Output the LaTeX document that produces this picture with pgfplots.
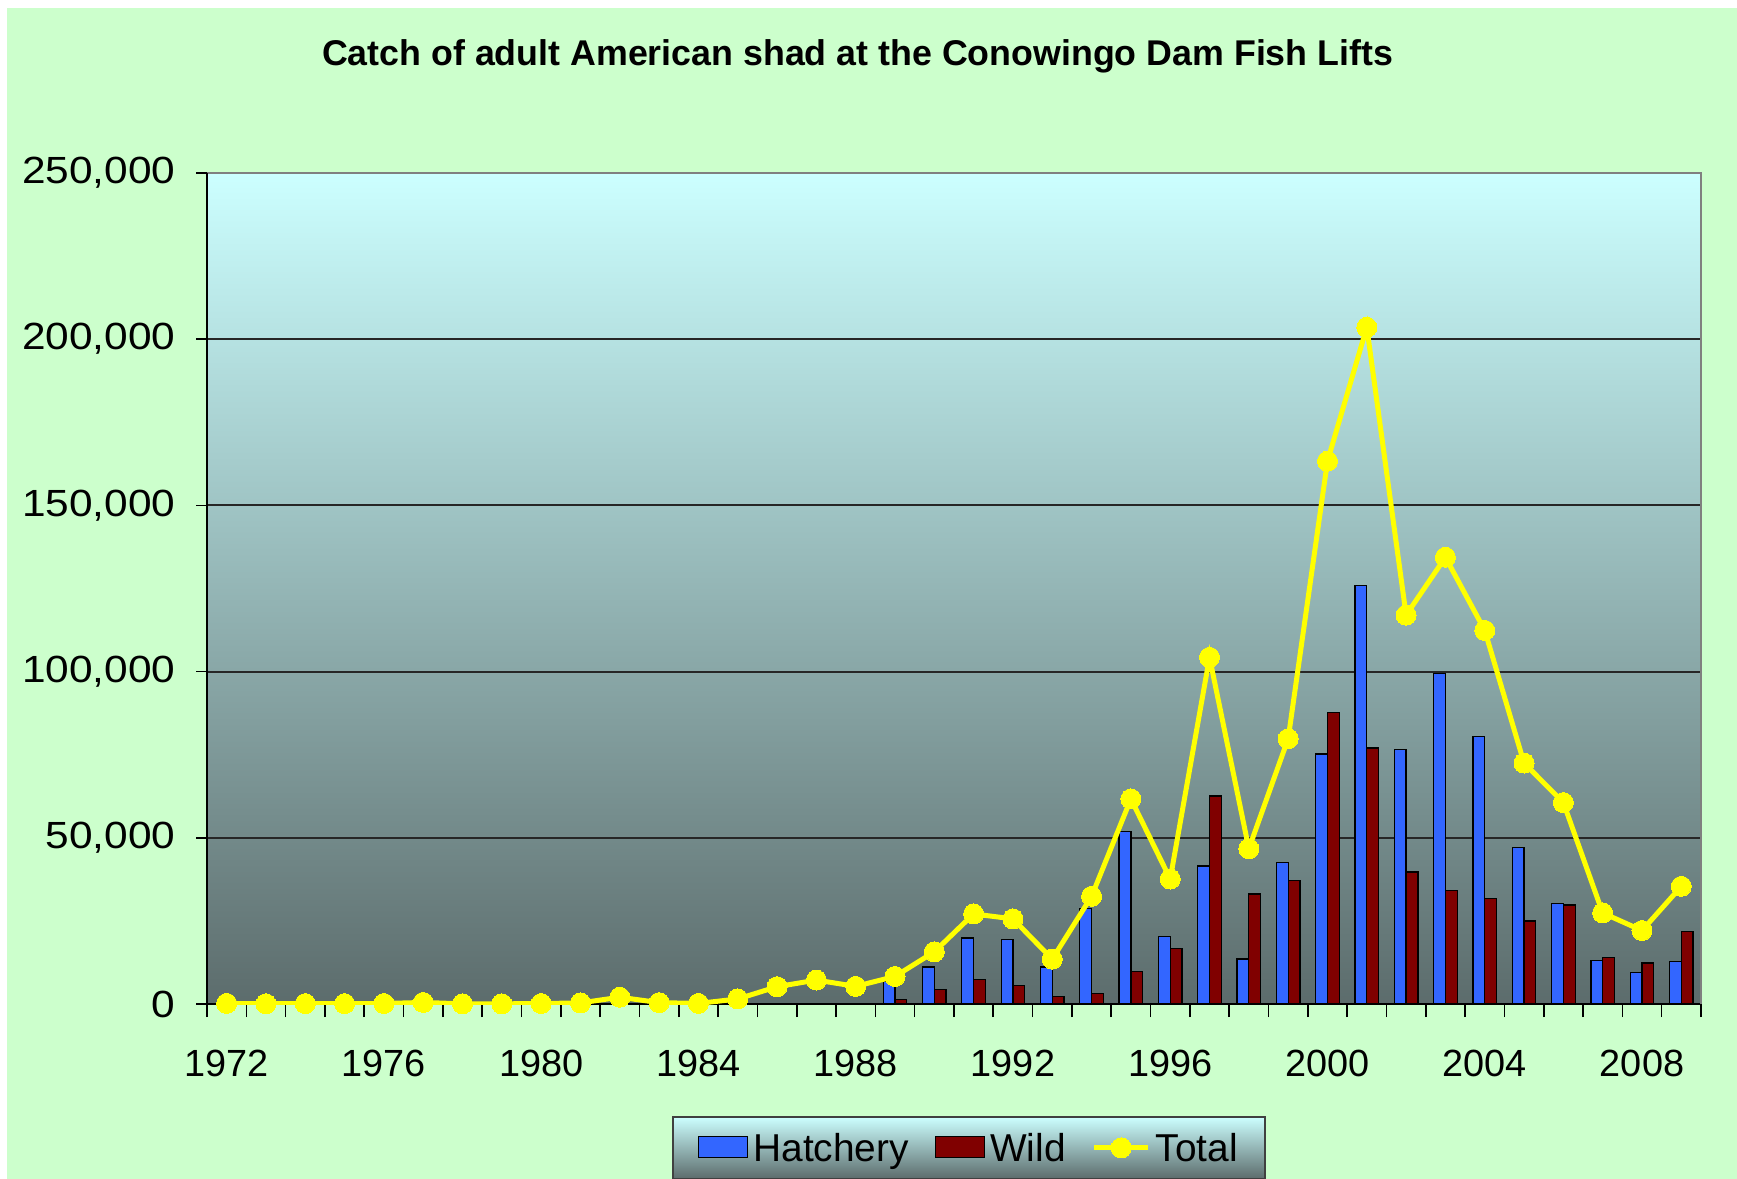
\documentclass[border=0pt]{standalone}
\usepackage{pgfplots}
\pgfplotsset{compat=1.18}
\usepackage{pgfplotstable}
\usepackage{fontspec}
\setmainfont{Liberation Sans}
\newfontfamily\ytickfont[FakeStretch=1.12]{Liberation Sans}
\definecolor{bggreen}{RGB}{204,255,204}
\definecolor{topcyan}{RGB}{204,255,255}
\definecolor{botgray}{RGB}{92,108,108}
\definecolor{hatch}{RGB}{51,102,255}
\definecolor{wildc}{RGB}{128,0,0}
\definecolor{totc}{RGB}{255,255,0}

\pgfplotsset{
  barlegend/.style={legend image code/.code={\draw[##1, line width=1.3bp] (0bp,-10bp) rectangle (49bp,11bp);}},
  linelegend/.style={legend image code/.code={\draw[##1, mark repeat=2, mark phase=2] plot coordinates {(0bp,0bp) (27bp,0bp) (54bp,0bp)};}},
}

\pgfplotstableread{
year hatch wild total
1972 nan nan 182
1973 nan nan 65
1974 nan nan 121
1975 nan nan 103
1976 nan nan 149
1977 nan nan 468
1978 nan nan 54
1979 nan nan 50
1980 nan nan 139
1981 nan nan 328
1982 nan nan 2039
1983 nan nan 413
1984 nan nan 167
1985 nan nan 1518
1986 nan nan 5200
1987 nan nan 7200
1988 nan nan 5300
1989 6900 1300 8300
1990 11100 4300 15700
1991 19900 7400 27100
1992 19500 5500 25600
1993 11100 2300 13500
1994 28800 3100 32400
1995 51800 9800 61700
1996 20400 16700 37600
1997 41500 62600 104300
1998 13500 33100 46700
1999 42500 37200 79800
2000 75200 87800 163300
2001 125800 77000 203600
2002 76600 39700 117000
2003 99400 34200 134400
2004 80500 31700 112400
2005 47100 25000 72500
2006 30200 29800 60600
2007 13100 14000 27400
2008 9400 12300 22100
2009 12700 21800 35400
}\data

\begin{document}
\begin{tikzpicture}
\useasboundingbox (-207bp,-175bp) rectangle (1530bp,1004bp);
\fill[white] (-207bp,-175bp) rectangle (1530bp,1004bp);
\fill[bggreen] (-200bp,-175bp) rectangle (1530bp,996bp);
\begin{axis}[
  at={(0bp,0bp)}, anchor=south west,
  scale only axis, width=1494bp, height=831bp,
  xmin=1971.5, xmax=2009.5, ymin=0, ymax=250000,
  scaled y ticks=false,
  axis background/.style={top color=topcyan, bottom color=botgray},
  axis line style={black, line width=2bp},
  ymajorgrids, grid style={draw=black!85, line width=2bp},
  tick align=outside, tick pos=left,
  major tick length=11bp, minor tick length=13bp,
  tick style={black, line width=1.6bp},
  every major x tick/.append style={draw=none},
  xtick={1972,1976,...,2008},
  xticklabels={1972,1976,1980,1984,1988,1992,1996,2000,2004,2008},
  minor xtick={1971.5,1972.5,...,2009.5},
  ytick={0,50000,100000,150000,200000,250000},
  yticklabels={0,{50,000},{100,000},{150,000},{200,000},{250,000}},
  xticklabel style={font=\fontsize{38}{40}\selectfont, anchor=base, yshift=-61bp},
  yticklabel style={font=\ytickfont\fontsize{38}{40}\selectfont, anchor=east, xshift=-17bp},
  title={Catch of adult American shad at the Conowingo Dam Fish Lifts},
  title style={at={(0.4355,1.133)}, anchor=center, font=\bfseries\fontsize{35.9}{40}\selectfont},
  legend columns=3,
  legend style={at={(0.510,-0.1348)}, anchor=north, top color=topcyan, bottom color=botgray,
    draw=black!75, line width=2bp, font=\fontsize{39}{41}\selectfont,
    inner xsep=25bp, inner ysep=14bp,
    /tikz/every odd column/.append style={column sep=3bp},
    /tikz/every even column/.append style={column sep=24bp}},
  legend cell align=left,
]
\addplot[ybar, bar width=0.3, bar shift=-0.15, fill=hatch, draw=black, line width=1.3bp, barlegend]
  table[x=year,y=hatch]{\data};
\addlegendentry{Hatchery}
\addplot[ybar, bar width=0.3, bar shift=0.15, fill=wildc, draw=black, line width=1.3bp, barlegend]
  table[x=year,y=wild]{\data};
\addlegendentry{Wild}
\addplot[totc, line width=5bp, mark=*, mark size=10bp, mark options={fill=totc, draw=totc, line width=0bp}, linelegend]
  table[x=year,y=total]{\data};
\addlegendentry{Total}
\end{axis}
\draw[gray, line width=1.5bp] (0bp,831bp) -- (1494bp,831bp) -- (1494bp,0bp);
\draw[black, line width=2bp] (0bp,0bp) -- (0bp,831bp);
\end{tikzpicture}
\end{document}
